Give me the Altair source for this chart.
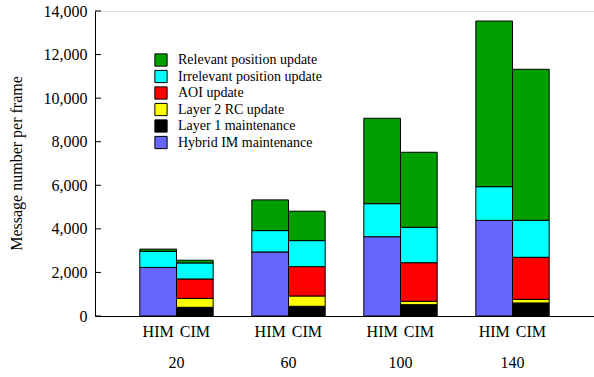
import altair as alt
import pandas as pd

# Number of players per frame (group) and the two interest-management schemes
groups = ["20", "60", "100", "140"]
schemes = ["HIM", "CIM"]

# Message categories, legend order (top to bottom)
categories = [
    "Relevant position update",
    "Irrelevant position update",
    "AOI update",
    "Layer 2 RC update",
    "Layer 1 maintenance",
    "Hybrid IM maintenance",
]
colors = ["#009f00", "#00ffff", "#ff0000", "#ffff00", "#000000", "#6666ff"]

# HIM message counts per frame
him_hybrid = [2230, 2940, 3640, 4390]
him_irrelevant = [740, 980, 1515, 1545]
him_relevant = [100, 1410, 3920, 7605]

# CIM message counts per frame
cim_layer1 = [400, 445, 520, 600]
cim_layer2 = [410, 475, 155, 165]
cim_aoi = [890, 1345, 1770, 1930]
cim_irrelevant = [735, 1195, 1625, 1700]
cim_relevant = [125, 1350, 3445, 6930]

y_ticks = [0, 2000, 4000, 6000, 8000, 10000, 12000, 14000]

FONT = "Liberation Serif"

rows = []
stacks = {
    "HIM": [
        ("Hybrid IM maintenance", him_hybrid, 0),
        ("Irrelevant position update", him_irrelevant, 3),
        ("Relevant position update", him_relevant, 4),
    ],
    "CIM": [
        ("Layer 1 maintenance", cim_layer1, 0),
        ("Layer 2 RC update", cim_layer2, 1),
        ("AOI update", cim_aoi, 2),
        ("Irrelevant position update", cim_irrelevant, 3),
        ("Relevant position update", cim_relevant, 4),
    ],
}
for scheme, parts in stacks.items():
    for cat, vals, rank in parts:
        for g, v in zip(groups, vals):
            rows.append({"group": g, "scheme": scheme, "category": cat,
                         "value": v, "rank": rank})
bars_df = pd.DataFrame(rows)

labels_df = pd.DataFrame([{"group": g, "scheme": s} for g in groups for s in schemes])
ticks_df = pd.DataFrame({"v": y_ticks})

x_enc = alt.X(
    "group:N",
    sort=groups,
    scale=alt.Scale(paddingInner=0.345, paddingOuter=0.4),
    axis=alt.Axis(
        title=None, labelAngle=0, ticks=False, tickSize=0, labelPadding=38,
        labelFont=FONT, labelFontSize=16, labelColor="black",
        domainColor="black", grid=False,
    ),
)
xoff_enc = alt.XOffset("scheme:N", sort=schemes,
                       scale=alt.Scale(paddingInner=0, paddingOuter=0))

bars = alt.Chart(bars_df).mark_bar(stroke="black", strokeWidth=1).encode(
    x=x_enc,
    xOffset=xoff_enc,
    y=alt.Y(
        "value:Q",
        stack="zero",
        scale=alt.Scale(domain=[0, 14000], nice=False),
        axis=alt.Axis(
            values=y_ticks, format=",.0f", ticks=False, tickSize=0, grid=False,
            labelPadding=8, labelFont=FONT, labelFontSize=16, labelColor="black",
            domainColor="black",
            title="Message number per frame", titleFont=FONT, titleFontSize=16,
            titleFontWeight="normal", titleColor="black",
            titleAngle=-90, titleX=-79, titleY=152,
            titleAlign="center", titleBaseline="middle",
        ),
    ),
    color=alt.Color(
        "category:N",
        scale=alt.Scale(domain=categories, range=colors),
        legend=alt.Legend(
            title=None, orient="none", legendX=59, legendY=42,
            symbolType="square", symbolSize=150, symbolStrokeColor="black",
            symbolStrokeWidth=1, symbolOpacity=1,
            labelFont=FONT, labelFontSize=14, labelColor="black",
            labelOffset=10, rowPadding=-1.5, padding=0,
        ),
    ),
    order=alt.Order("rank:Q", sort="ascending"),
)

scheme_labels = alt.Chart(labels_df).mark_text(
    font=FONT, fontSize=16, color="black", baseline="middle"
).encode(
    x=x_enc,
    xOffset=xoff_enc,
    y=alt.value(321),
    text="scheme:N",
)

# inward tick marks on the value axis
inner_ticks = alt.Chart(ticks_df).mark_rule(color="black", strokeWidth=1).encode(
    y="v:Q",
    x=alt.value(0),
    x2=alt.value(6),
)

chart = alt.layer(bars, inner_ticks, scheme_labels).properties(
    width=499,
    height=305,
    autosize=alt.AutoSizeParams(type="none"),
    padding={"left": 95, "top": 11, "right": 0, "bottom": 61},
).configure_view(stroke=None).configure(background="white")

chart.save("out.html", embed_options={"renderer": "svg", "actions": False})
